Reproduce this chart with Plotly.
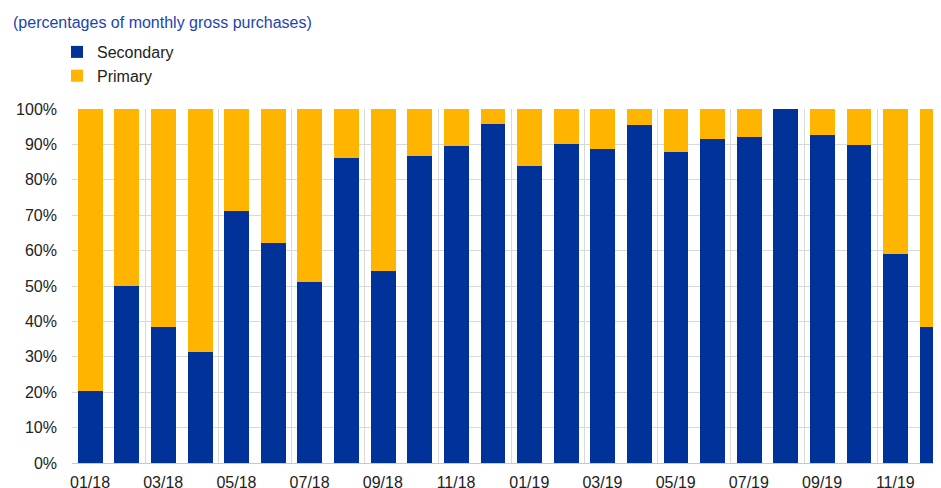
import plotly.graph_objects as go

months = ["01/18", "02/18", "03/18", "04/18", "05/18", "06/18", "07/18", "08/18",
          "09/18", "10/18", "11/18", "12/18", "01/19", "02/19", "03/19", "04/19",
          "05/19", "06/19", "07/19", "08/19", "09/19", "10/19", "11/19", "12/19"]
secondary = [20.4, 50.0, 38.4, 31.4, 71.2, 62.1, 51.1, 86.2, 54.3, 86.6, 89.5, 95.8,
             83.9, 90.1, 88.7, 95.5, 87.9, 91.5, 92.2, 100.0, 92.6, 89.8, 59.0, 38.4]
primary = [79.6, 50.0, 61.6, 68.6, 28.8, 37.9, 48.9, 13.8, 45.7, 13.4, 10.5, 4.2,
           16.1, 9.9, 11.3, 4.5, 12.1, 8.5, 7.8, 0.0, 7.4, 10.2, 41.0, 61.6]
tick_labels = months[::2]

BLUE = "#003299"
YELLOW = "#ffb400"
FONT = "Liberation Sans, Arial, sans-serif"
FS = 16

x = list(range(len(months)))

fig = go.Figure()
fig.add_bar(x=x, y=secondary, name="Secondary", marker=dict(color=BLUE, line=dict(width=0)),
            width=0.68, legendgroup="s")
fig.add_bar(x=x, y=primary, name="Primary", marker=dict(color=YELLOW, line=dict(width=0)),
            width=0.68, legendgroup="p")

# The page places the figure 8px in from the top-left corner of the window.
W, H = 933, 480
L, R, T, B = 64, 0, 101, 25
PW, PH = W - L - R, H - T - B

fig.add_annotation(text="(percentages of monthly gross purchases)",
                   xref="paper", yref="paper",
                   x=(4 - L) / PW, xanchor="left",
                   y=1 + (T - 14) / PH, yanchor="middle",
                   showarrow=False, borderpad=0,
                   font=dict(family=FONT, size=FS, color="#1c44b0"))

fig.update_layout(
    width=W, height=H,
    barmode="stack",
    margin=dict(l=L, r=R, t=T, b=B, autoexpand=False),
    paper_bgcolor="white", plot_bgcolor="white",
    font=dict(family=FONT, size=FS, color="#222222"),
    legend=dict(x=49 / W, xref="container", xanchor="left",
                y=1 - 27 / H, yref="container", yanchor="top",
                traceorder="grouped", tracegroupgap=0,
                font=dict(family=FONT, size=FS, color="#222222"),
                bgcolor="rgba(0,0,0,0)"),
    xaxis=dict(range=[-0.5, 23.24], tickmode="array",
               tickvals=[i - 0.5 for i in range(0, len(months), 2)],
               ticktext=tick_labels, ticklabelshift=18,
               showgrid=True, gridcolor="#d9d9d9", gridwidth=1,
               showline=True, linecolor="#c8c8c8", linewidth=1,
               zeroline=False, ticks="", ticklabelstandoff=5, automargin=False,
               tickfont=dict(family=FONT, size=FS, color="#222222")),
    yaxis=dict(range=[0, 100], dtick=10, ticksuffix="%",
               showgrid=True, gridcolor="#d9d9d9", gridwidth=1,
               zeroline=False, showline=False, ticks="", ticklabelstandoff=14,
               automargin=False,
               tickfont=dict(family=FONT, size=FS, color="#222222")),
    bargap=0.32,
)

fig.write_html("out.html")
